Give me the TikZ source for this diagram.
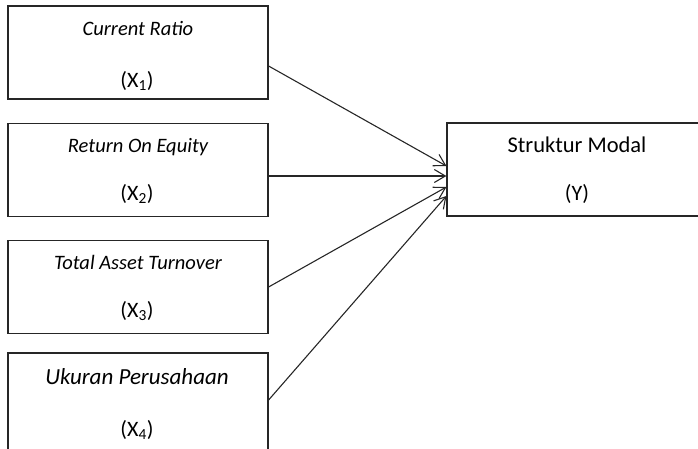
\documentclass[tikz,border=0pt]{standalone}
\usepackage{fontspec}
\setmainfont{Carlito}
\usetikzlibrary{arrows.meta}

\tikzset{
  varbox/.style={draw=black!85, line width=1.2pt, minimum width=260pt,
    minimum height=93pt, inner sep=0pt},
  vartitle/.style={anchor=base, inner sep=0pt,
    font=\fontsize{20.5}{24}\selectfont\itshape},
  varsym/.style={anchor=base, inner sep=0pt,
    font=\fontsize{22}{26}\selectfont},
  link/.style={-{Straight Barb[length=11pt,width=13pt]},
    line width=1.1pt, draw=black!85}
}

\begin{document}
\begin{tikzpicture}[x=1pt,y=-1pt]
  \useasboundingbox (0,0) rectangle (698,448);
  \clip (0,0) rectangle (698,448);
  % boxes
  \node[varbox] (x1) at (138,52.5) {};
  \node[varbox] (x2) at (138,170) {};
  \node[varbox] (x3) at (138,287) {};
  \node[varbox, minimum height=107pt] (x4) at (138,406.5) {};
  \node[varbox] (y) at (577,169.5) {};
  % texts
  \node[vartitle] (x1t) at (138,35) {Current Ratio};
  \node[varsym] (x1s) at (137,87) {(X\textsubscript{1})};
  \node[vartitle] (x2t) at (138,152) {Return On Equity};
  \node[varsym] (x2s) at (137,200) {(X\textsubscript{2})};
  \node[vartitle] (x3t) at (138,269) {Total Asset Turnover};
  \node[varsym] (x3s) at (137,317) {(X\textsubscript{3})};
  \node[vartitle, font=\fontsize{23}{27}\selectfont\itshape] (x4t) at (137,384) {Ukuran Perusahaan};
  \node[varsym] (x4s) at (137,436) {(X\textsubscript{4})};
  \node[varsym, font=\fontsize{22.5}{27}\selectfont] (yt) at (577,152.5) {Struktur Modal};
  \node[varsym] (ys) at (577,200) {(Y)};
  % arrows
  \begin{scope}[link]
    \draw ([yshift=-13.5pt]x1.east) to ([yshift=3.5pt]y.west);
    \draw ([yshift=-6pt]x2.east) to ([yshift=-6.5pt]y.west);
    \draw (x3.east) to ([yshift=-17.5pt]y.west);
    \draw ([yshift=6.5pt]x4.east) to ([yshift=-26.5pt]y.west);
  \end{scope}
\end{tikzpicture}
\end{document}
